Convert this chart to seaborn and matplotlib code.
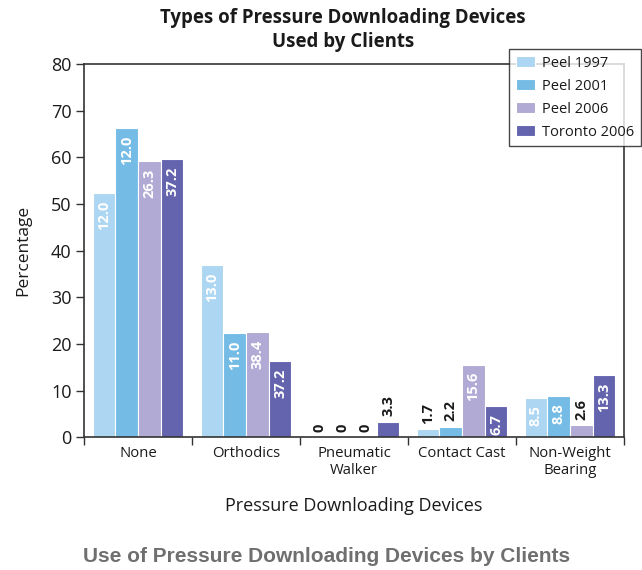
import matplotlib
matplotlib.use("Agg")
import matplotlib.pyplot as plt
import seaborn as sns
import pandas as pd
from matplotlib.ticker import FixedLocator

sns.set_theme(style="white")
plt.rcParams["font.family"] = ["Open Sans", "DejaVu Sans"]

devices = ["None", "Orthodics", "Pneumatic\nWalker", "Contact Cast", "Non-Weight\nBearing"]
series = ["Peel 1997", "Peel 2001", "Peel 2006", "Toronto 2006"]
colors = ["#acd6f1", "#74bce6", "#b0aad5", "#6464ae"]

# bar heights (percentage of clients) per series, one value per device
peel_1997 = [52.4, 36.9, 0.0, 1.7, 8.5]
peel_2001 = [66.3, 22.4, 0.0, 2.2, 8.8]
peel_2006 = [59.2, 22.6, 0.0, 15.6, 2.6]
toronto_2006 = [59.6, 16.4, 3.3, 6.7, 13.3]

# value labels printed on the bars
labels_1997 = ["12.0", "13.0", "0", "1.7", "8.5"]
labels_2001 = ["12.0", "11.0", "0", "2.2", "8.8"]
labels_2006 = ["26.3", "38.4", "0", "15.6", "2.6"]
labels_toronto = ["37.2", "37.2", "3.3", "6.7", "13.3"]

yticks = [0, 10, 20, 30, 40, 50, 60, 70, 80]

values = [peel_1997, peel_2001, peel_2006, toronto_2006]
labels = [labels_1997, labels_2001, labels_2006, labels_toronto]

rows = []
for s, vals in zip(series, values):
    for d, v in zip(devices, vals):
        rows.append({"Device": d, "Series": s, "Percentage": v})
df = pd.DataFrame(rows)

fig = plt.figure(figsize=(6.42, 5.70), dpi=100)
ax = fig.add_axes([84 / 642, 1 - 437.3 / 570, 540 / 642, (437.3 - 64) / 570])

sns.barplot(data=df, x="Device", y="Percentage", hue="Series",
            order=devices, hue_order=series, palette=colors,
            width=0.84, saturation=1, edgecolor="white", linewidth=0.8,
            errorbar=None, ax=ax)

# value labels: inside (white) for tall bars, above (black) for short ones
for cont, labs in zip(ax.containers, labels):
    for patch, lab in zip(cont.patches, labs):
        h = patch.get_height()
        xc = patch.get_x() + patch.get_width() / 2
        if h >= 5:
            ax.text(xc, h - 1.6, lab, rotation=90, ha="center", va="top",
                    color="white", fontsize=10.5, fontweight="bold")
        else:
            ax.text(xc, h + 1.2, lab, rotation=90, ha="center", va="bottom",
                    color="#1a1a1a", fontsize=10.5, fontweight="bold")

ax.set_xlim(-0.5, 4.5)
ax.set_ylim(0, 80)
ax.set_yticks(yticks)
ax.tick_params(axis="y", which="major", length=6, width=1, color="#333333",
               direction="out", labelsize=13, labelcolor="#1a1a1a", pad=3, left=True)
ax.tick_params(axis="x", which="major", length=0, labelsize=10.7,
               labelcolor="#1a1a1a", pad=6)
ax.xaxis.set_minor_locator(FixedLocator([i - 0.5 for i in range(len(devices) + 1)]))
ax.tick_params(axis="x", which="minor", length=6, width=1, color="#333333",
               direction="out", bottom=True)

for sp in ax.spines.values():
    sp.set_visible(True)
    sp.set_color("#333333")
    sp.set_linewidth(1.2)

ax.set_xlabel("Pressure Downloading Devices", fontsize=13, color="#1a1a1a", labelpad=14)
ax.set_ylabel("Percentage", fontsize=12.5, color="#1a1a1a", labelpad=14)

leg = ax.legend(loc="upper left", bbox_to_anchor=(509 / 642, 1 - 49 / 570),
                bbox_transform=fig.transFigure, frameon=True, fancybox=False,
                edgecolor="#1a1a1a", fontsize=10.5, handlelength=1.3,
                handleheight=0.85, handletextpad=0.5, labelspacing=0.55,
                borderpad=0.45, borderaxespad=0)
leg.get_frame().set_linewidth(1.0)
for t in leg.get_texts():
    t.set_color("#1a1a1a")

fig.text(343 / 642, 1 - 30 / 570, "Types of Pressure Downloading Devices\nUsed by Clients",
         ha="center", va="center", fontsize=13.4, fontweight="bold",
         color="#1a1a1a", linespacing=1.3)

fig.text(327 / 642, 1 - 556 / 570, "Use of Pressure Downloading Devices by Clients",
         ha="center", va="center", fontsize=15, fontweight="bold",
         color="#6f6f6f", family=["Liberation Sans", "DejaVu Sans"])

fig.savefig("out.png", dpi=100)
